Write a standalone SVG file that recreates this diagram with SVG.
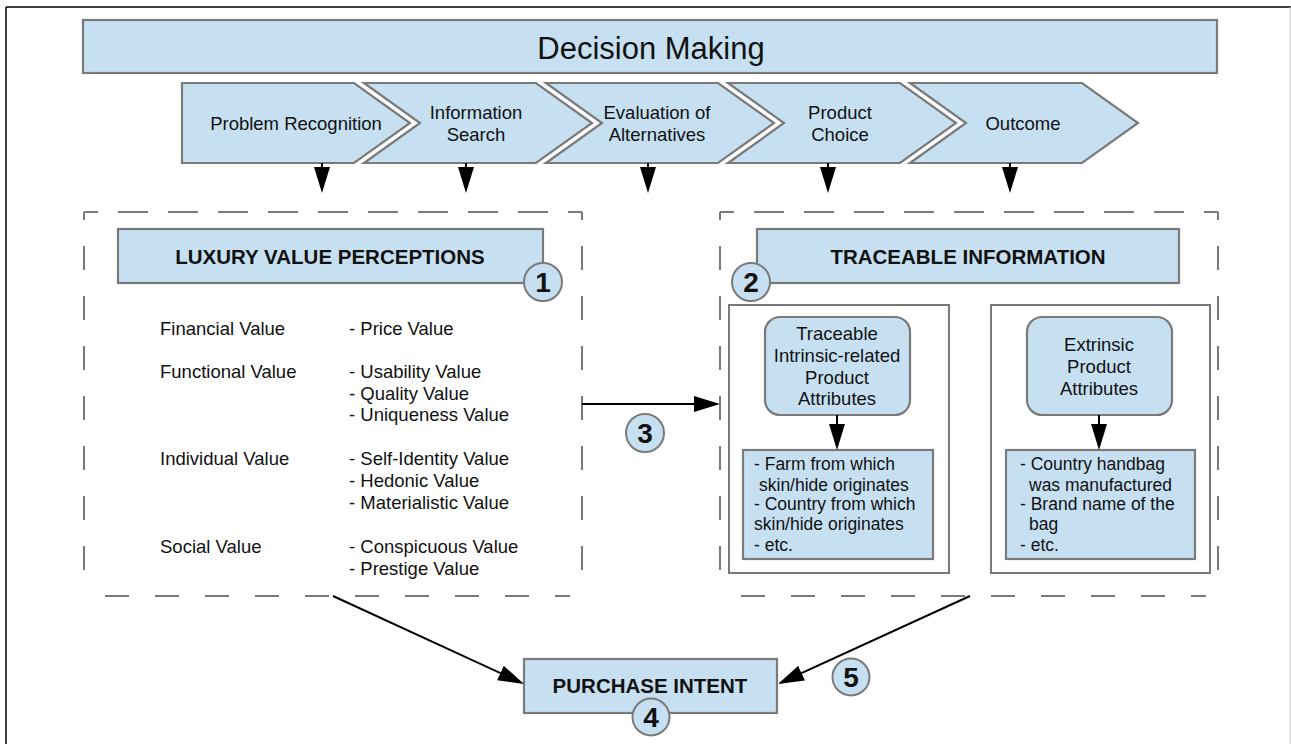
<svg xmlns="http://www.w3.org/2000/svg" width="1291" height="744" viewBox="0 0 1291 744">
  <style>
    .box { fill: #c6e0f2; stroke: #7a7a7a; stroke-width: 2.2; }
    .plain { fill: #ffffff; stroke: #7a7a7a; stroke-width: 2; }
    .dash { fill: none; stroke: #7a7a7a; stroke-width: 2; stroke-dasharray: 24 26; }
    .lead { stroke-dashoffset: 16; }
    .conn { fill: none; stroke: #000; stroke-width: 2; marker-end: url(#head); }
    .badge { fill: #c6e0f2; stroke: #7a7a7a; stroke-width: 2; }
    text { font-family: "Liberation Sans", Arial, sans-serif; fill: #111; }
    .t { font-size: 18.5px; }
    .tc { font-size: 18.5px; text-anchor: middle; }
    .list { font-size: 17.5px; }
    .hd { font-size: 20.5px; font-weight: bold; text-anchor: middle; }
    .num { font-size: 28px; font-weight: bold; text-anchor: middle; }
  </style>
  <defs>
    <marker id="head" viewBox="0 0 26 16" refX="23" refY="8" markerWidth="26" markerHeight="16" markerUnits="userSpaceOnUse" orient="auto">
      <path d="M0,0 L26,8 L0,16 z" fill="#000"/>
    </marker>
  </defs>

  <rect width="1291" height="744" fill="#ffffff"/>
  <!-- page frame -->
  <line x1="6" y1="7" x2="1291" y2="7" stroke="#000" stroke-width="1.5"/>
  <line x1="6" y1="7" x2="6" y2="744" stroke="#000" stroke-width="1.5"/>
  <line x1="1290" y1="7" x2="1290" y2="744" stroke="#c8c8c8" stroke-width="1"/>

  <!-- top banner -->
  <g id="decision-making">
    <rect class="box" x="83" y="20" width="1134" height="53"/>
    <text x="651" y="59" font-size="31" text-anchor="middle">Decision Making</text>
  </g>

  <!-- process chevrons -->
  <g id="problem-recognition">
    <polygon class="box" points="182,83 354,83 410,123 354,163 182,163"/>
    <text class="tc" x="296" y="129.5">Problem Recognition</text>
  </g>
  <g id="information-search">
    <polygon class="box" points="364,83 536,83 592,123 536,163 364,163 420,123"/>
    <text class="tc" x="476" y="118.5">Information</text>
    <text class="tc" x="476" y="140.5">Search</text>
  </g>
  <g id="evaluation">
    <polygon class="box" points="546,83 718,83 774,123 718,163 546,163 602,123"/>
    <text class="tc" x="657" y="118.5">Evaluation of</text>
    <text class="tc" x="657" y="140.5">Alternatives</text>
  </g>
  <g id="product-choice">
    <polygon class="box" points="728,83 900,83 956,123 900,163 728,163 784,123"/>
    <text class="tc" x="840" y="118.5">Product</text>
    <text class="tc" x="840" y="140.5">Choice</text>
  </g>
  <g id="outcome">
    <polygon class="box" points="910,83 1082,83 1138,123 1082,163 910,163 966,123"/>
    <text class="tc" x="1023" y="129.5">Outcome</text>
  </g>

  <!-- luxury value perceptions -->
  <g id="luxury-values">
    <!-- dashed frame: corner pieces at the top, open corners at the bottom -->
    <path class="dash lead" d="M84,212 H582"/>
    <path class="dash lead" d="M582,212 H84"/>
    <path class="dash lead" d="M84,212 V588"/>
    <path class="dash lead" d="M582,212 V588"/>
    <path class="dash" d="M105,596 H570"/>
    <rect class="box" x="118" y="229" width="425" height="54"/>
    <text class="hd" x="330" y="263.5">LUXURY VALUE PERCEPTIONS</text>
    <circle class="badge" cx="543" cy="282" r="19"/>
    <text class="num" x="543" y="292">1</text>
    <text class="t" x="160" y="334.5">Financial Value</text>
    <text class="t" x="349" y="334.5">- Price Value</text>
    <text class="t" x="160" y="377.5">Functional Value</text>
    <text class="t" x="349" y="377.5">- Usability Value</text>
    <text class="t" x="349" y="399.5">- Quality Value</text>
    <text class="t" x="349" y="420.5">- Uniqueness Value</text>
    <text class="t" x="160" y="464.5">Individual Value</text>
    <text class="t" x="349" y="464.5">- Self-Identity Value</text>
    <text class="t" x="349" y="486.5">- Hedonic Value</text>
    <text class="t" x="349" y="508.5">- Materialistic Value</text>
    <text class="t" x="160" y="552.5">Social Value</text>
    <text class="t" x="349" y="552.5">- Conspicuous Value</text>
    <text class="t" x="349" y="574.5">- Prestige Value</text>
  </g>

  <!-- traceable information -->
  <g id="traceable-information">
    <path class="dash lead" d="M720,212 H1218"/>
    <path class="dash lead" d="M1218,212 H720"/>
    <path class="dash lead" d="M720,212 V588"/>
    <path class="dash lead" d="M1218,212 V588"/>
    <path class="dash" d="M741,596 H1206"/>
    <rect class="box" x="757" y="229" width="422" height="54"/>
    <text class="hd" x="968" y="263.5">TRACEABLE INFORMATION</text>
    <circle class="badge" cx="751" cy="282" r="19"/>
    <text class="num" x="751" y="292">2</text>
  </g>
  <g id="intrinsic-panel">
    <rect class="plain" x="729" y="305" width="220" height="268"/>
    <rect class="box" x="765" y="317" width="145" height="98" rx="15" ry="15"/>
    <text class="tc" x="837" y="340">Traceable</text>
    <text class="tc" x="837" y="362">Intrinsic-related</text>
    <text class="tc" x="837" y="384">Product</text>
    <text class="tc" x="837" y="405">Attributes</text>
    <rect class="box" x="743" y="450" width="190" height="109"/>
    <text class="list" x="754" y="470">- Farm from which</text>
    <text class="list" x="759" y="491">skin/hide originates</text>
    <text class="list" x="754" y="510">- Country from which</text>
    <text class="list" x="754" y="530">skin/hide originates</text>
    <text class="list" x="754" y="551">- etc.</text>
  </g>
  <g id="extrinsic-panel">
    <rect class="plain" x="991" y="305" width="219" height="268"/>
    <rect class="box" x="1027" y="317" width="145" height="98" rx="15" ry="15"/>
    <text class="tc" x="1099" y="351">Extrinsic</text>
    <text class="tc" x="1099" y="373">Product</text>
    <text class="tc" x="1099" y="395">Attributes</text>
    <rect class="box" x="1006" y="450" width="189" height="109"/>
    <text class="list" x="1020" y="470">- Country handbag</text>
    <text class="list" x="1029" y="491">was manufactured</text>
    <text class="list" x="1020" y="510">- Brand name of the</text>
    <text class="list" x="1029" y="530">bag</text>
    <text class="list" x="1020" y="551">- etc.</text>
  </g>

  <!-- purchase intent -->
  <g id="purchase-intent">
    <rect class="box" x="524" y="659" width="253" height="54"/>
    <text class="hd" x="650" y="693">PURCHASE INTENT</text>
    <circle class="badge" cx="651" cy="717" r="18.5"/>
    <text class="num" x="651" y="727">4</text>
  </g>

  <!-- step badges -->
  <g id="badge-3">
    <circle class="badge" cx="645" cy="433" r="19"/>
    <text class="num" x="645" y="443">3</text>
  </g>
  <g id="badge-5">
    <circle class="badge" cx="851" cy="677" r="18.5"/>
    <text class="num" x="851" y="687">5</text>
  </g>

  <!-- connectors -->
  <g id="connectors">
    <line class="conn" x1="322" y1="163" x2="322" y2="190"/>
    <line class="conn" x1="466" y1="163" x2="466" y2="190"/>
    <line class="conn" x1="648" y1="163" x2="648" y2="190"/>
    <line class="conn" x1="828" y1="163" x2="828" y2="190"/>
    <line class="conn" x1="1010" y1="163" x2="1010" y2="190"/>
    <line class="conn" x1="582" y1="404" x2="717" y2="404"/>
    <line class="conn" x1="837" y1="415" x2="837" y2="447"/>
    <line class="conn" x1="1099" y1="415" x2="1099" y2="447"/>
    <line class="conn" x1="333" y1="596" x2="521.3" y2="682.7"/>
    <line class="conn" x1="970" y1="596" x2="780.7" y2="682.7"/>
  </g>
</svg>
